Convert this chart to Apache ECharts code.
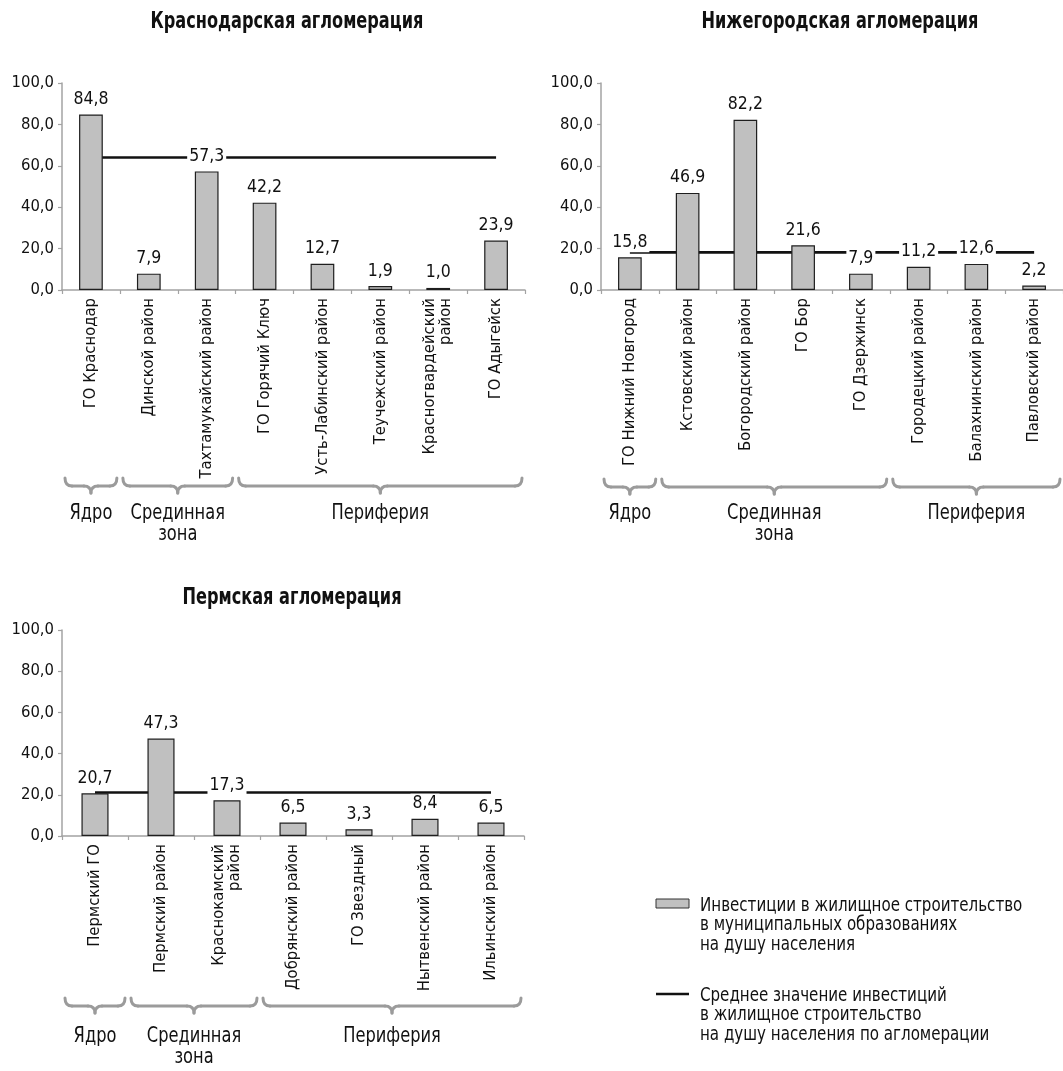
<!DOCTYPE html>
<html>
<head>
<meta charset="utf-8">
<script src="https://cdn.jsdelivr.net/npm/echarts@6/dist/echarts.min.js"></script>
<style>
  html, body { margin: 0; padding: 0; background: #ffffff; }
  #chart { width: 1063px; height: 1071px; }
</style>
</head>
<body>
<div id="chart"></div>
<script>
// ---- data ----
const krasnodarNames = ['ГО Краснодар', 'Динской район', 'Тахтамукайский район', 'ГО Горячий Ключ',
  'Усть-Лабинский район', 'Теучежский район', 'Красногвардейский\nрайон', 'ГО Адыгейск'];
const krasnodarValues = [84.8, 7.9, 57.3, 42.2, 12.7, 1.9, 1.0, 23.9];
const krasnodarMean = 64.0;
const krasnodarZones = [['Ядро', 0, 0], ['Срединная\nзона', 1, 2], ['Периферия', 3, 7]];

const nizhnyNames = ['ГО Нижний Новгород', 'Кстовский район', 'Богородский район', 'ГО Бор',
  'ГО Дзержинск', 'Городецкий район', 'Балахнинский район', 'Павловский район'];
const nizhnyValues = [15.8, 46.9, 82.2, 21.6, 7.9, 11.2, 12.6, 2.2];
const nizhnyMean = 18.2;
const nizhnyZones = [['Ядро', 0, 0], ['Срединная\nзона', 1, 4], ['Периферия', 5, 7]];

const permNames = ['Пермский ГО', 'Пермский район', 'Краснокамский\nрайон', 'Добрянский район',
  'ГО Звездный', 'Нытвенский район', 'Ильинский район'];
const permValues = [20.7, 47.3, 17.3, 6.5, 3.3, 8.4, 6.5];
const permMean = 21.1;
const permZones = [['Ядро', 0, 0], ['Срединная\nзона', 1, 2], ['Периферия', 3, 6]];

const valueAxisMin = 0;
const valueAxisMax = 100;
const valueAxisStep = 20;

const legendBarText = 'Инвестиции в жилищное строительство\nв муниципальных образованиях\nна душу населения';
const legendLineText = 'Среднее значение инвестиций\nв жилищное строительство\nна душу населения по агломерации';

// ---- layout ----
const FONT = "'Liberation Sans Narrow', 'DejaVu Sans Condensed', 'Arial Narrow', sans-serif";
const NARROW = 0.86;       // horizontal squeeze for free-standing texts
const NARROW_BOLD = 0.78;
const panels = [
  { title: 'Краснодарская агломерация', names: krasnodarNames, values: krasnodarValues,
    mean: krasnodarMean, zones: krasnodarZones,
    grid: { left: 62, top: 83, width: 463, height: 207 }, titleX: 287, titleY: 11,
    braceTop: 478, zoneTop: 503 },
  { title: 'Нижегородская агломерация', names: nizhnyNames, values: nizhnyValues,
    mean: nizhnyMean, zones: nizhnyZones,
    grid: { left: 601, top: 83, width: 462, height: 207 }, titleX: 840, titleY: 11,
    braceTop: 479, zoneTop: 503 },
  { title: 'Пермская агломерация', names: permNames, values: permValues,
    mean: permMean, zones: permZones,
    grid: { left: 62, top: 630, width: 462, height: 206 }, titleX: 292, titleY: 587,
    braceTop: 998, zoneTop: 1026 }
];

const fmt = v => Number(v).toFixed(1).replace('.', ',');
const AXIS_GREY = '#a3a3a3';

const option = {
  backgroundColor: '#ffffff',
  animation: false,
  textStyle: { fontFamily: FONT },
  grid: panels.map(p => Object.assign({ containLabel: false }, p.grid)),
  xAxis: panels.map((p, i) => ({
    type: 'category', gridIndex: i, data: p.names, boundaryGap: true,
    axisLine: { lineStyle: { color: AXIS_GREY, width: 1.5 } },
    axisTick: { show: true, length: 4, lineStyle: { color: AXIS_GREY, width: 1.2 } },
    axisLabel: { rotate: 90, interval: 0, margin: 8, fontFamily: FONT, fontSize: 16.5,
      color: '#111', lineHeight: 16 }
  })),
  yAxis: panels.map((p, i) => ({
    type: 'value', gridIndex: i, min: valueAxisMin, max: valueAxisMax, interval: valueAxisStep,
    splitLine: { show: false },
    axisLine: { show: true, lineStyle: { color: AXIS_GREY, width: 1.5 } },
    axisTick: { show: true, length: 4, lineStyle: { color: AXIS_GREY, width: 1.2 } },
    axisLabel: { margin: 8, fontFamily: FONT, fontSize: 16.5, color: '#111', formatter: v => fmt(v) }
  })),
  series: []
};

panels.forEach((p, i) => {
  // agglomeration average
  option.series.push({
    type: 'line', name: 'mean' + i, xAxisIndex: i, yAxisIndex: i, z: 2,
    data: [[p.names[0], p.mean], [p.names[p.names.length - 1], p.mean]],
    symbol: 'none', silent: true,
    lineStyle: { color: '#111', width: 2.6 }
  });
  // per-municipality investment
  option.series.push({
    type: 'bar', name: 'bars' + i, xAxisIndex: i, yAxisIndex: i, z: 3,
    data: p.values, barWidth: '41%',
    itemStyle: { color: '#c0c0c0', borderColor: '#1e1e1e', borderWidth: 1.2 },
    label: { show: true, position: 'top', distance: 5, formatter: d => fmt(d.value),
      fontFamily: FONT, fontSize: 17.5, color: '#111',
      backgroundColor: '#ffffff', padding: [1, 2] }
  });
});

const chart = echarts.init(document.getElementById('chart'), null, { renderer: 'canvas' });
chart.setOption(option);

// ---- titles, zone braces and labels ----
const BRACE_GREY = '#9b9b9b';
const braceStyle = { stroke: BRACE_GREY, lineWidth: 3, lineCap: 'round', fill: null };

function braceParts(x0, x1, top) {
  const cx = (x0 + x1) / 2, y1 = top + 8, tip = top + 15, r = 7;
  const curve = (ax, ay, bx, by, cx1, cy1) => ({
    type: 'bezierCurve', silent: true,
    shape: { x1: ax, y1: ay, x2: bx, y2: by, cpx1: cx1, cpy1: cy1 }, style: braceStyle
  });
  const seg = (ax, ay, bx, by) => ({
    type: 'line', silent: true, shape: { x1: ax, y1: ay, x2: bx, y2: by }, style: braceStyle
  });
  return [
    curve(x0, top, x0 + r, y1, x0, y1),
    seg(x0 + r, y1, cx - r, y1),
    curve(cx - r, y1, cx, tip, cx, y1),
    curve(cx, tip, cx + r, y1, cx, y1),
    seg(cx + r, y1, x1 - r, y1),
    curve(x1 - r, y1, x1, top, x1, y1)
  ];
}

const graphics = [];
panels.forEach((p, i) => {
  graphics.push({
    type: 'text', silent: true, x: p.titleX, y: p.titleY, scaleX: NARROW_BOLD,
    style: { text: p.title, fontFamily: FONT, fontSize: 23, fontWeight: 'bold', fill: '#111',
      align: 'center', verticalAlign: 'top' }
  });
  const c0 = chart.convertToPixel({ xAxisIndex: i }, 0);
  const c1 = chart.convertToPixel({ xAxisIndex: i }, 1);
  const band = c1 - c0;
  p.zones.forEach(([label, from, to]) => {
    const left = chart.convertToPixel({ xAxisIndex: i }, from) - band / 2 + 3;
    const right = chart.convertToPixel({ xAxisIndex: i }, to) + band / 2 - 3;
    braceParts(left, right, p.braceTop).forEach(g => graphics.push(g));
    graphics.push({
      type: 'text', silent: true, x: (left + right) / 2, y: p.zoneTop, scaleX: NARROW,
      style: { text: label, fontFamily: FONT, fontSize: 21, lineHeight: 21, fill: '#111',
        align: 'center', verticalAlign: 'top' }
    });
  });
});

// ---- legend ----
graphics.push(
  { type: 'rect', silent: true, shape: { x: 656, y: 899, width: 33, height: 9 },
    style: { fill: '#c0c0c0', stroke: '#333', lineWidth: 1 } },
  { type: 'text', silent: true, x: 700, y: 896, scaleX: NARROW,
    style: { text: legendBarText, fontFamily: FONT, fontSize: 19.5, lineHeight: 19.5, fill: '#111',
      align: 'left', verticalAlign: 'top' } },
  { type: 'line', silent: true, shape: { x1: 656, y1: 994, x2: 689, y2: 994 },
    style: { stroke: '#111', lineWidth: 2.6 } },
  { type: 'text', silent: true, x: 700, y: 986, scaleX: NARROW,
    style: { text: legendLineText, fontFamily: FONT, fontSize: 19.5, lineHeight: 19.5, fill: '#111',
      align: 'left', verticalAlign: 'top' } }
);

chart.setOption({ graphic: graphics });
</script>
</body>
</html>
